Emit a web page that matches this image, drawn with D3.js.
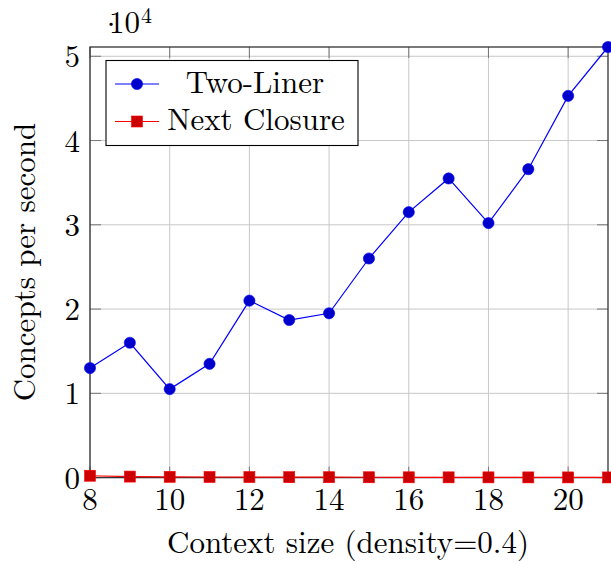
<!DOCTYPE html>
<html><head><meta charset="utf-8">
<script src="https://cdn.jsdelivr.net/npm/d3@7"></script>
<style>body{margin:0;background:#fff}svg{display:block}</style>
</head><body>
<svg id="c" width="611" height="565" font-family="Latin Modern Roman, Liberation Serif, serif"></svg>
<script>
const contextSizes = [8,9,10,11,12,13,14,15,16,17,18,19,20,21];
const twoLiner = [13000,16000,10500,13500,21000,18700,19500,26000,31500,35500,30200,36600,45300,51100];
const nextClosure = [220,120,90,70,60,50,45,40,35,30,28,25,22,20];
const xTicks = [8,10,12,14,16,18,20];
const yTicks = [0,10000,20000,30000,40000,50000];
const yTickLabels = ["0","1","2","3","4","5"];
const seriesNames = ["Two-Liner","Next Closure"];

const svg = d3.select("#c");
const L=90, R=608, T=47, B=477.6;
const x = d3.scaleLinear().domain([8,21]).range([L,R]);
const y = d3.scaleLinear().domain([0,51100]).range([B,T]);

// grid
const g = svg.append("g");
g.selectAll(".gx").data(xTicks).join("line").attr("x1",d=>x(d)).attr("x2",d=>x(d)).attr("y1",T).attr("y2",B).attr("stroke","#c8c8c8").attr("stroke-width",1);
g.selectAll(".gy").data(yTicks).join("line").attr("y1",d=>y(d)).attr("y2",d=>y(d)).attr("x1",L).attr("x2",R).attr("stroke","#c8c8c8").attr("stroke-width",1);
// inner ticks on all sides
const tl=11;
xTicks.forEach(d=>{
  g.append("line").attr("x1",x(d)).attr("x2",x(d)).attr("y1",B).attr("y2",B-tl).attr("stroke","#777").attr("stroke-width",1);
  g.append("line").attr("x1",x(d)).attr("x2",x(d)).attr("y1",T).attr("y2",T+tl).attr("stroke","#777").attr("stroke-width",1);
});
yTicks.forEach(d=>{
  g.append("line").attr("y1",y(d)).attr("y2",y(d)).attr("x1",L).attr("x2",L+tl).attr("stroke","#777").attr("stroke-width",1);
  g.append("line").attr("y1",y(d)).attr("y2",y(d)).attr("x1",R).attr("x2",R-tl).attr("stroke","#777").attr("stroke-width",1);
});
// frame
svg.append("rect").attr("x",L).attr("y",T).attr("width",R-L).attr("height",B-T).attr("fill","none").attr("stroke","#333").attr("stroke-width",1.3);

// tick labels
const fs=31;
svg.selectAll(".xl").data(xTicks).join("text").attr("x",d=>x(d)).attr("y",510).attr("text-anchor","middle").attr("font-size",fs).text(d=>d);
svg.selectAll(".yl").data(yTicks).join("text").attr("x",80).attr("y",d=>y(d)+11).attr("text-anchor","end").attr("font-size",fs).text((d,i)=>yTickLabels[i]);
// multiplier
const m = svg.append("text").attr("x",99).attr("y",33).attr("font-size",fs);
m.append("tspan").attr("dy",2).text("·");
m.append("tspan").attr("x",109).attr("dy",-2).text("10");
m.append("tspan").attr("x",141).attr("dy",-10).attr("font-size",22).text("4");

// axis labels
svg.append("text").attr("x",348).attr("y",553).attr("text-anchor","middle").attr("font-size",fs).text("Context size (density=0.4)");
svg.append("text").attr("transform","translate(35,262) rotate(-90)").attr("text-anchor","middle").attr("font-size",fs).text("Concepts per second");

// series
const line = d3.line().x((d,i)=>x(contextSizes[i])).y(d=>y(d));
svg.append("path").datum(twoLiner).attr("d",line).attr("fill","none").attr("stroke","#0000ff").attr("stroke-width",1.2);
svg.selectAll(".c").data(twoLiner).join("circle").attr("cx",(d,i)=>x(contextSizes[i])).attr("cy",d=>y(d)).attr("r",5.6).attr("fill","#0000cc").attr("stroke","#0000ff").attr("stroke-width",0.6);
svg.append("path").datum(nextClosure).attr("d",line).attr("fill","none").attr("stroke","#ff0000").attr("stroke-width",1.2);
const s=11;
svg.selectAll(".s").data(nextClosure).join("rect").attr("x",(d,i)=>x(contextSizes[i])-s/2).attr("y",d=>y(d)-s/2).attr("width",s).attr("height",s).attr("fill","#cc0000").attr("stroke","#ff0000").attr("stroke-width",0.6);

// legend
const lg = svg.append("g");
lg.append("rect").attr("x",106).attr("y",60.5).attr("width",252).attr("height",85).attr("fill","#fff").attr("stroke","#000").attr("stroke-width",1.1);
const rows=[84,121.5];
lg.append("line").attr("x1",115).attr("x2",159).attr("y1",rows[0]).attr("y2",rows[0]).attr("stroke","#0000ff").attr("stroke-width",1.2);
lg.append("circle").attr("cx",137).attr("cy",rows[0]).attr("r",5.6).attr("fill","#0000cc").attr("stroke","#0000ff").attr("stroke-width",0.6);
lg.append("line").attr("x1",115).attr("x2",159).attr("y1",rows[1]).attr("y2",rows[1]).attr("stroke","#ff0000").attr("stroke-width",1.2);
lg.append("rect").attr("x",137-s/2).attr("y",rows[1]-s/2).attr("width",s).attr("height",s).attr("fill","#cc0000").attr("stroke","#ff0000").attr("stroke-width",0.6);
seriesNames.forEach((n,i)=>{
  lg.append("text").attr("x",[255,256][i]).attr("y",[92.5,130][i]).attr("text-anchor","middle").attr("font-size",fs).text(n);
});
</script>
</body></html>
